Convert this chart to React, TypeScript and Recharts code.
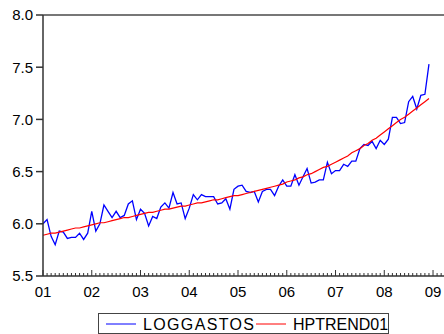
import { LineChart, Line, XAxis, YAxis, ReferenceLine } from 'recharts'

const yearLabels = ['01', '02', '03', '04', '05', '06', '07', '08', '09']
const yTicks = [5.5, 6.0, 6.5, 7.0, 7.5, 8.0]
const seriesNames = ['LOGGASTOS', 'HPTREND01']

// monthly, 2001M01 .. 2008M12
const logGastos = [
  6.00, 6.04, 5.88, 5.80, 5.93, 5.92, 5.86, 5.87, 5.87, 5.91, 5.85, 5.91,
  6.12, 5.93, 6.00, 6.18, 6.12, 6.06, 6.12, 6.06, 6.08, 6.19, 6.22, 6.04,
  6.14, 6.10, 5.98, 6.07, 6.05, 6.16, 6.20, 6.15, 6.30, 6.19, 6.20, 6.05,
  6.15, 6.28, 6.23, 6.28, 6.26, 6.26, 6.26, 6.19, 6.20, 6.24, 6.14, 6.33,
  6.36, 6.37, 6.31, 6.30, 6.31, 6.21, 6.31, 6.33, 6.33, 6.27, 6.36, 6.42,
  6.36, 6.36, 6.47, 6.37, 6.45, 6.53, 6.39, 6.40, 6.42, 6.42, 6.59, 6.48,
  6.51, 6.51, 6.57, 6.55, 6.60, 6.60, 6.72, 6.76, 6.75, 6.79, 6.72, 6.80,
  6.76, 6.81, 7.02, 7.02, 6.96, 6.97, 7.17, 7.22, 7.10, 7.23, 7.24, 7.53,
]

const hpTrend = [
  5.89, 5.90, 5.91, 5.91, 5.92, 5.93, 5.94, 5.95, 5.96, 5.96, 5.97, 5.98,
  5.99, 6.00, 6.01, 6.01, 6.02, 6.03, 6.04, 6.05, 6.06, 6.06, 6.07, 6.08,
  6.09, 6.10, 6.11, 6.11, 6.12, 6.13, 6.14, 6.14, 6.15, 6.16, 6.17, 6.17,
  6.18, 6.19, 6.20, 6.20, 6.21, 6.22, 6.23, 6.23, 6.24, 6.25, 6.26, 6.27,
  6.27, 6.28, 6.29, 6.30, 6.31, 6.32, 6.33, 6.34, 6.35, 6.36, 6.37, 6.38,
  6.40, 6.41, 6.42, 6.44, 6.45, 6.47, 6.48, 6.50, 6.52, 6.54, 6.55, 6.57,
  6.59, 6.61, 6.63, 6.65, 6.68, 6.70, 6.72, 6.75, 6.77, 6.80, 6.82, 6.85,
  6.88, 6.91, 6.94, 6.97, 7.00, 7.02, 7.05, 7.08, 7.11, 7.14, 7.17, 7.20,
]

const data = logGastos.map((v, i) => ({ t: i, loggastos: v, hptrend: hpTrend[i] }))

// one tick per month, to the right edge of the frame
const monthTicks = Array.from({ length: 99 }, (_, i) => i)

const FONT = '"Liberation Sans", Arial, sans-serif'

const MonthTick = (props: any) => {
  const { x, y, payload } = props
  const v = payload.value
  const major = v % 12 === 0
  return (
    <g>
      <line x1={x} x2={x} y1={y} y2={y - (major ? 6 : 3)} stroke="#333" strokeWidth={1} />
      {major && (
        <text x={x} y={y + 21} textAnchor="middle" fontSize={15} fontFamily={FONT} fill="#000">
          {yearLabels[v / 12]}
        </text>
      )}
    </g>
  )
}

export default function App() {
  return (
    <div style={{ position: 'absolute', left: 0, top: 0, width: 444, height: 334, background: '#fff' }}>
      <LineChart width={444} height={334} data={data} margin={{ top: 15, right: 0, left: 0, bottom: 0 }}>
        <XAxis
          dataKey="t"
          type="number"
          domain={[0, 98.7]}
          ticks={monthTicks}
          interval={0}
          tick={<MonthTick />}
          tickLine={false}
          tickSize={0}
          tickMargin={0}
          height={58}
          stroke="#333"
          strokeWidth={1.5}
        />
        <YAxis
          type="number"
          domain={[5.5, 8]}
          ticks={yTicks}
          interval={0}
          width={43}
          tickSize={7}
          tickMargin={3}
          tickFormatter={(v: number) => v.toFixed(1)}
          tick={{ fontSize: 15, fontFamily: FONT, fill: '#000' }}
          stroke="#333"
          strokeWidth={1.5}
        />
        <ReferenceLine y={8} stroke="#777" strokeWidth={2} />
        <Line
          dataKey="loggastos"
          name={seriesNames[0]}
          stroke="#0000FF"
          strokeWidth={1.3}
          dot={false}
          isAnimationActive={false}
        />
        <Line
          dataKey="hptrend"
          name={seriesNames[1]}
          stroke="#FF0000"
          strokeWidth={1.2}
          dot={false}
          isAnimationActive={false}
        />
      </LineChart>
      <div
        style={{
          position: 'absolute',
          left: 98,
          top: 313,
          width: 289,
          height: 19,
          border: '1px solid #444',
        }}
      >
        <svg width={289} height={19} style={{ position: 'absolute', left: 0, top: 0 }}>
          <line x1={7} x2={37} y1={10} y2={10} stroke="#0000FF" strokeWidth={1} />
          <text x={44} y={16} fontSize={16} fontFamily={FONT} fill="#000" textLength={111} lengthAdjust="spacing">
            {seriesNames[0]}
          </text>
          <line x1={157} x2={187} y1={10} y2={10} stroke="#FF0000" strokeWidth={1} />
          <text x={194} y={16} fontSize={16} fontFamily={FONT} fill="#000">{seriesNames[1]}</text>
        </svg>
      </div>
    </div>
  )
}
